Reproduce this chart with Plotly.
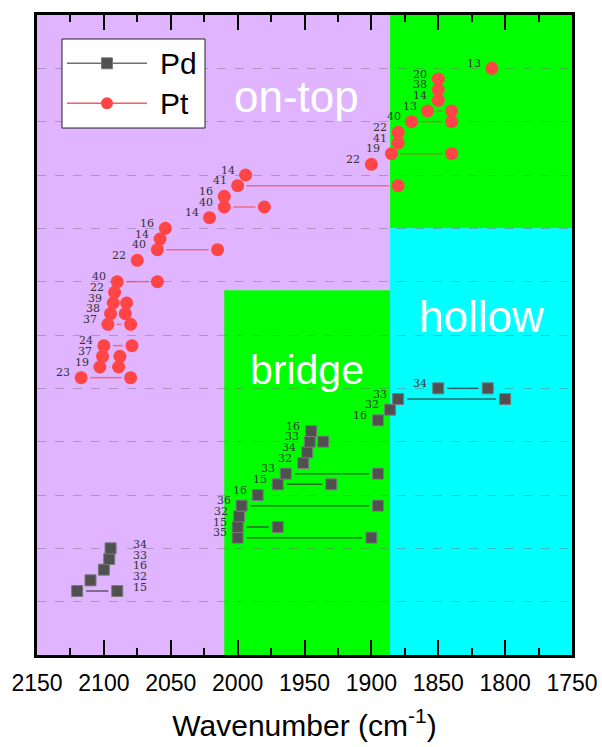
import plotly.graph_objects as go

# ---- Data: CO stretching frequencies, one row per configuration ----
# Each row: label, row position, first wavenumber, optional second wavenumber.
pt_labels = ["23", "19", "37", "24", "37", "38", "39", "22", "40", "22", "40", "14", "16", "14",
             "40", "16", "41", "14", "22", "19", "41", "22", "40", "13", "14", "38", "20", "13"]
pt_rows = [26, 27, 28, 29, 31, 32, 33, 34, 35, 37, 38, 39, 40, 41,
           42, 43, 44, 45, 46, 47, 48, 49, 50, 51, 52, 53, 54, 55]
pt_wn_a = [2117, 2103, 2101, 2100, 2097, 2095, 2093, 2092, 2090, 2075, 2060, 2058, 2054, 2021,
           2010, 2010, 2000, 1994, 1900, 1885, 1880, 1880, 1870, 1858, 1850, 1850, 1850, 1810]
pt_wn_b = [2080, 2089, 2088, 2079, 2080, 2084, 2083, None, 2060, None, 2015, None, None, None,
           1980, None, 1880, None, None, 1840, None, None, 1840, 1840, None, None, None, None]

pd_labels = ["15", "32", "16", "33", "34", "35", "15", "32", "36", "16",
             "15", "33", "32", "34", "33", "16", "16", "32", "33", "34"]
pd_rows = [6, 7, 8, 9, 10, 11, 12, 13, 14, 15, 16, 17, 18, 19, 20, 21, 22, 23, 24, 25]
pd_wn_a = [2120, 2110, 2100, 2096, 2095, 2000, 2000, 1999, 1997, 1985,
           1970, 1964, 1951, 1948, 1946, 1945, 1895, 1886, 1880, 1850]
pd_wn_b = [2090, None, None, None, None, 1900, 1970, None, 1895, None,
           1930, 1895, None, None, 1936, None, None, None, 1800, 1813]

# Adsorption-site regions (wavenumber limits, row limits)
ONTOP_HOLLOW_EDGE = 1886
BRIDGE_LEFT_EDGE = 2010
HOLLOW_TOP_ROW = 40
BRIDGE_TOP_ROW = 34.2
X_RANGE = [2150, 1750]
Y_RANGE = [0, 60]

# first rows of Pd have their labels in a column to the right
PD_RIGHT_LABEL_COUNT = 5
PD_RIGHT_LABEL_WN = 2080

PURPLE = "#e0b4fe"
GREEN = "#00ff00"
CYAN = "#00ffff"

# pixel gap left between a connecting line and its markers
GAP_PX = 9
PLOT_W_PX = 535
WN_PER_PX = (X_RANGE[0] - X_RANGE[1]) / PLOT_W_PX
GAP_WN = GAP_PX * WN_PER_PX


def pair_lines(rows, wa, wb):
    xs, ys = [], []
    for r, a, b in zip(rows, wa, wb):
        if b is None:
            continue
        x0, x1 = a - GAP_WN, b + GAP_WN
        if x0 <= x1:
            continue
        xs += [x0, x1, None]
        ys += [r, r, None]
    return xs, ys


def all_points(rows, wa, wb):
    xs, ys = [], []
    for r, a, b in zip(rows, wa, wb):
        xs.append(a)
        ys.append(r)
        if b is not None:
            xs.append(b)
            ys.append(r)
    return xs, ys


fig = go.Figure()

pd_lx, pd_ly = pair_lines(pd_rows, pd_wn_a, pd_wn_b)
pt_lx, pt_ly = pair_lines(pt_rows, pt_wn_a, pt_wn_b)
fig.add_trace(go.Scatter(x=pd_lx, y=pd_ly, mode="lines", showlegend=False, hoverinfo="skip",
                         line=dict(color="rgba(55,55,55,0.75)", width=1.5)))
fig.add_trace(go.Scatter(x=pt_lx, y=pt_ly, mode="lines", showlegend=False, hoverinfo="skip",
                         line=dict(color="rgba(240,60,60,0.6)", width=1.5)))

pd_px, pd_py = all_points(pd_rows, pd_wn_a, pd_wn_b)
pt_px, pt_py = all_points(pt_rows, pt_wn_a, pt_wn_b)
fig.add_trace(go.Scatter(x=pd_px, y=pd_py, mode="markers", name="Pd", showlegend=False,
                         marker=dict(symbol="square", size=11, color="#505050",
                                     line=dict(color="#7a7a7a", width=1))))
fig.add_trace(go.Scatter(x=pt_px, y=pt_py, mode="markers", name="Pt", showlegend=False,
                         marker=dict(symbol="circle", size=13, color="#ff4545",
                                     line=dict(width=0))))

# row labels
label_font = dict(family="DejaVu Serif", size=11, color="#333333")
annotations = []
for lab, r, a in zip(pt_labels, pt_rows, pt_wn_a):
    annotations.append(dict(x=a, y=r, text=lab, showarrow=False, xanchor="right",
                            xshift=-9, yshift=5, font=label_font))
for i, (lab, r, a) in enumerate(zip(pd_labels, pd_rows, pd_wn_a)):
    if i < PD_RIGHT_LABEL_COUNT:
        annotations.append(dict(x=PD_RIGHT_LABEL_WN, y=r, text=lab, showarrow=False,
                                xanchor="left", yshift=4, font=label_font))
    else:
        annotations.append(dict(x=a, y=r, text=lab, showarrow=False, xanchor="right",
                                xshift=-9, yshift=5, font=label_font))


# region names
def region_font(size):
    return dict(family="Arial, Liberation Sans", size=size, color="white")


annotations += [
    dict(x=1956, y=52.4, text="on-top", showarrow=False, font=region_font(44)),
    dict(x=1818, y=31.7, text="hollow", showarrow=False, font=region_font(44)),
    dict(x=1948, y=26.7, text="bridge", showarrow=False, font=region_font(41)),
]

# legend box
leg_font = dict(family="Arial, Liberation Sans", size=30, color="black")
annotations += [
    dict(x=0.226, y=0.9245, xref="paper", yref="paper", text="Pd", showarrow=False,
         xanchor="left", yanchor="middle", font=leg_font),
    dict(x=0.226, y=0.862, xref="paper", yref="paper", text="Pt", showarrow=False,
         xanchor="left", yanchor="middle", font=leg_font),
]

shapes = [
    dict(type="rect", xref="x", yref="y", x0=X_RANGE[0], x1=X_RANGE[1], y0=Y_RANGE[0], y1=Y_RANGE[1],
         fillcolor=PURPLE, line=dict(width=0), layer="below"),
    dict(type="rect", xref="x", yref="y", x0=ONTOP_HOLLOW_EDGE, x1=X_RANGE[1], y0=HOLLOW_TOP_ROW, y1=Y_RANGE[1],
         fillcolor=GREEN, line=dict(width=0), layer="below"),
    dict(type="rect", xref="x", yref="y", x0=ONTOP_HOLLOW_EDGE, x1=X_RANGE[1], y0=Y_RANGE[0], y1=HOLLOW_TOP_ROW,
         fillcolor=CYAN, line=dict(width=0), layer="below"),
    dict(type="rect", xref="x", yref="y", x0=BRIDGE_LEFT_EDGE, x1=ONTOP_HOLLOW_EDGE, y0=Y_RANGE[0], y1=BRIDGE_TOP_ROW,
         fillcolor=GREEN, line=dict(width=0), layer="below"),
    # legend
    dict(type="rect", xref="paper", yref="paper", x0=0.0467, x1=0.314, y0=0.8234, y1=0.9625,
         fillcolor="white", line=dict(color="#222222", width=1), layer="above"),
    dict(type="line", xref="paper", yref="paper", x0=0.056, x1=0.2056, y0=0.9245, y1=0.9245,
         line=dict(color="#707070", width=1.5), layer="above"),
    dict(type="line", xref="paper", yref="paper", x0=0.056, x1=0.2056, y0=0.862, y1=0.862,
         line=dict(color="#f06060", width=1.5), layer="above"),
    dict(type="rect", xref="paper", yref="paper", xsizemode="pixel", ysizemode="pixel",
         xanchor=0.1308, yanchor=0.9245, x0=-5.5, x1=5.5, y0=-5.5, y1=5.5,
         fillcolor="#505050", line=dict(color="#7a7a7a", width=1), layer="above"),
    dict(type="circle", xref="paper", yref="paper", xsizemode="pixel", ysizemode="pixel",
         xanchor=0.1308, yanchor=0.862, x0=-6, x1=6, y0=-6, y1=6,
         fillcolor="#ff4545", line=dict(width=0), layer="above"),
]

fig.update_layout(
    width=602, height=747,
    margin=dict(l=37, r=30, t=15, b=92, autoexpand=False),
    paper_bgcolor="white", plot_bgcolor=PURPLE,
    showlegend=False,
    shapes=shapes, annotations=annotations,
    font=dict(family="Arial, Liberation Sans", color="black"),
)
fig.update_xaxes(
    range=X_RANGE, dtick=50, tick0=1750, automargin=False,
    showgrid=False, zeroline=False,
    showline=True, linewidth=2.5, linecolor="black", mirror="ticks",
    ticks="inside", ticklen=15, tickwidth=2, tickcolor="black",
    minor=dict(ticks="inside", ticklen=7, tickwidth=2, tickcolor="black", dtick=25, showgrid=False),
    tickfont=dict(size=23, family="Arial, Liberation Sans", color="black"),
    ticklabelstandoff=6,
    title=dict(text="Wavenumber (cm<sup>-1</sup>)", font=dict(size=30), standoff=20),
)
fig.update_yaxes(
    range=Y_RANGE, dtick=5, tick0=0, automargin=False,
    showgrid=True, gridcolor="rgba(110,110,110,0.45)", griddash="dash", gridwidth=1,
    zeroline=False, showticklabels=False, ticks="",
    showline=True, linewidth=2.5, linecolor="black", mirror=True,
)

fig.write_html("out.html")
